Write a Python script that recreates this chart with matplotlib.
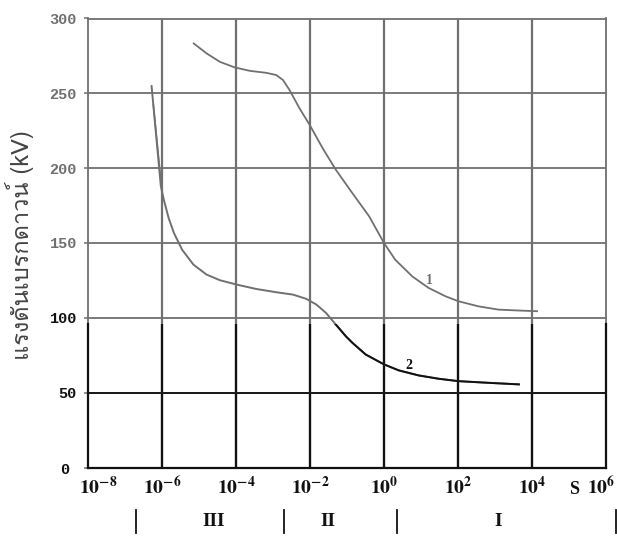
import numpy as np
import matplotlib
matplotlib.use("Agg")
import matplotlib.pyplot as plt
from matplotlib import font_manager, ft2font
from matplotlib.patches import Rectangle
from matplotlib.transforms import blended_transform_factory

# ---------------- data ----------------
c1_t = [6.9e-6, 1.6e-5, 3.7e-5, 9.3e-5, 2.4e-4, 6.6e-4, 1.23e-3, 1.86e-3, 2.8e-3, 5.2e-3,
        9.8e-3, 2.2e-2, 5.0e-2, 0.14, 0.40, 1.0, 2.0, 5.8, 16, 46, 102, 355, 1230, 4200, 14500]
c1_kv = [283.7, 276.7, 271, 267.3, 265, 263.7, 262.2, 258.9, 252.2, 240,
         228.9, 213.3, 198.9, 183.3, 167.7, 150, 138.9, 127.7, 120, 114.4, 111.1, 107.7,
         105.5, 104.9, 104.4]

c2_t = [5.2e-7, 9.3e-7, 1.12e-6, 1.51e-6, 2.1e-6, 3.5e-6, 7.1e-6, 1.6e-5, 3.7e-5, 1.05e-4,
        3.5e-4, 1.23e-3, 3.5e-3, 7.9e-3, 1.48e-2, 2.7e-2, 5.0e-2, 9.3e-2, 0.14, 0.32,
        1.0, 2.5, 8.7, 30, 102, 540, 4700]
c2_kv = [255.5, 188, 178.9, 166.7, 156.7, 145.5, 135.5, 128.9, 125.1, 122.2,
         119.3, 117.1, 115.5, 112.7, 108.9, 103.3, 95.5, 87.7, 83.3, 75.5,
         68.9, 64.9, 61.5, 59.3, 57.7, 56.7, 55.5]

spike_t = [5.8e-7, 9.5e-7]
spike_kv = [243, 190]

xtick_vals = [1e-8, 1e-6, 1e-4, 1e-2, 1e0, 1e2, 1e4, 1e6]
xtick_labels = [r"$\mathbf{10^{-8}}$", r"$\mathbf{10^{-6}}$", r"$\mathbf{10^{-4}}$",
                r"$\mathbf{10^{-2}}$", r"$\mathbf{10^{0}}$", r"$\mathbf{10^{2}}$",
                r"$\mathbf{10^{4}}$", r"$\mathbf{10^{6}}$"]
ytick_vals = [0, 50, 100, 150, 200, 250, 300]
region_bounds = [2.0e-7, 2.0e-3, 2.2e0, 1.9e6]
region_names = ["III", "II", "I"]
region_centers = [2.5e-5, 3.0e-2, 1.2e3]
curve_labels = ["1", "2"]
curve_label_pos = [(17, 120.5), (4.8, 64)]

# ---------------- fonts ----------------
thai_family = None
for f in font_manager.fontManager.ttflist:
    try:
        cm = ft2font.FT2Font(f.fname).get_charmap()
        if 0x0E41 in cm and 0x0E14 in cm and 0x0E27 in cm:
            thai_family = f.name
            break
    except Exception:
        pass
ylabel_family = [thai_family, "DejaVu Sans"] if thai_family else ["DejaVu Sans"]

plt.rcParams["mathtext.fontset"] = "stix"

GREY = "#707070"
BLACK = "#111111"
SPLIT = 96

W, H = 617, 540
fig = plt.figure(figsize=(W / 100, H / 100), dpi=100)
L, R, T, B = 88, 606, 18.5, 467.5
ax = fig.add_axes([L / W, 1 - B / H, (R - L) / W, (B - T) / H])
ax.set_xscale("log")
ax.set_xlim(1e-8, 1e6)
ax.set_ylim(0, 300)

clip_rect = Rectangle((1e-9, -20), 1e8, SPLIT + 20, transform=ax.transData,
                      facecolor="none", edgecolor="none")
ax.add_patch(clip_rect)


def two_tone(xs, ys, lw, **kw):
    ax.plot(xs, ys, color=GREY, lw=lw, solid_capstyle="butt", solid_joinstyle="round", **kw)
    ln, = ax.plot(xs, ys, color=BLACK, lw=lw, solid_capstyle="butt",
                  solid_joinstyle="round", **kw)
    ln.set_clip_path(clip_rect)


# grid
for xv in xtick_vals[1:-1]:
    two_tone([xv, xv], [0, 300], 1.6)
for yv in ytick_vals[1:-1]:
    two_tone([1e-8, 1e6], [yv, yv], 1.3)

# curves
two_tone(c1_t, c1_kv, 1.3)
two_tone(c2_t, c2_kv, 1.4)
two_tone(spike_t, spike_kv, 1.1)

for lab, (lx, ly) in zip(curve_labels, curve_label_pos):
    col = GREY if ly > SPLIT else BLACK
    ax.text(lx, ly, lab, fontsize=10, fontweight="bold", color=col,
            family="Liberation Serif", ha="center", va="bottom")

# spines
for s in ["top", "right", "left"]:
    ax.spines[s].set_color(GREY)
    ax.spines[s].set_linewidth(1.3)
ax.spines["bottom"].set_color(BLACK)
ax.spines["bottom"].set_linewidth(1.6)
ax.plot([1e-8, 1e-8], [0, SPLIT], color=BLACK, lw=1.6, clip_on=False, zorder=3)
ax.plot([1e6, 1e6], [0, SPLIT], color=BLACK, lw=1.6, clip_on=False, zorder=3)

# y ticks
ax.set_yticks(ytick_vals)
ax.set_yticklabels([str(v) if v else "" for v in ytick_vals])
ax.tick_params(axis="y", direction="out", length=3, width=1.1, colors=GREY, pad=5,
               labelsize=11)
for v, lab in zip(ytick_vals, ax.get_yticklabels()):
    lab.set_family("Liberation Mono")
    lab.set_fontweight("bold")
    lab.set_color(GREY if v > 100 else BLACK)
ax.text(-0.045, -0.006, "0", transform=ax.transAxes, fontsize=11, fontweight="bold",
        family="Liberation Mono", color=BLACK, ha="center", va="center")

# x ticks drawn as texts
ax.set_xticks(xtick_vals)
ax.set_xticklabels([])
ax.minorticks_off()
ax.tick_params(axis="x", length=0)
tbx = blended_transform_factory(ax.transData, fig.transFigure)
x_offsets = [1.9, 1.0, 1.0, 1.0, 1.0, 1.0, 1.0, 0.72]
for xv, lab, off in zip(xtick_vals, xtick_labels, x_offsets):
    fig.text(xv * off, 1 - 487 / H, lab, transform=tbx, fontsize=14, color=BLACK,
             ha="center", va="center")

ax.grid(False)

# seconds unit
fig.text(1.4e5, 1 - 489 / H, "S", transform=tbx, fontsize=13, family="Liberation Serif",
         fontweight="bold", color=BLACK, ha="center", va="center")

# region markers
for b in region_bounds:
    fig.add_artist(plt.Line2D([b, b], [1 - 533 / H, 1 - 510 / H], transform=tbx,
                              color=BLACK, lw=1.3))
for name, c in zip(region_names, region_centers):
    fig.text(c, 1 - 521 / H, name, transform=tbx, fontsize=14, family="Liberation Serif",
             fontweight="bold", color=BLACK, ha="center", va="center")

# y label
fig.text(20 / W, 1 - 245 / H, "แรงดันเบรกดาวน์ (kV)", rotation=90, family=ylabel_family,
         fontsize=17, color="#444444", ha="center", va="center")

fig.savefig("out.png", dpi=100)
